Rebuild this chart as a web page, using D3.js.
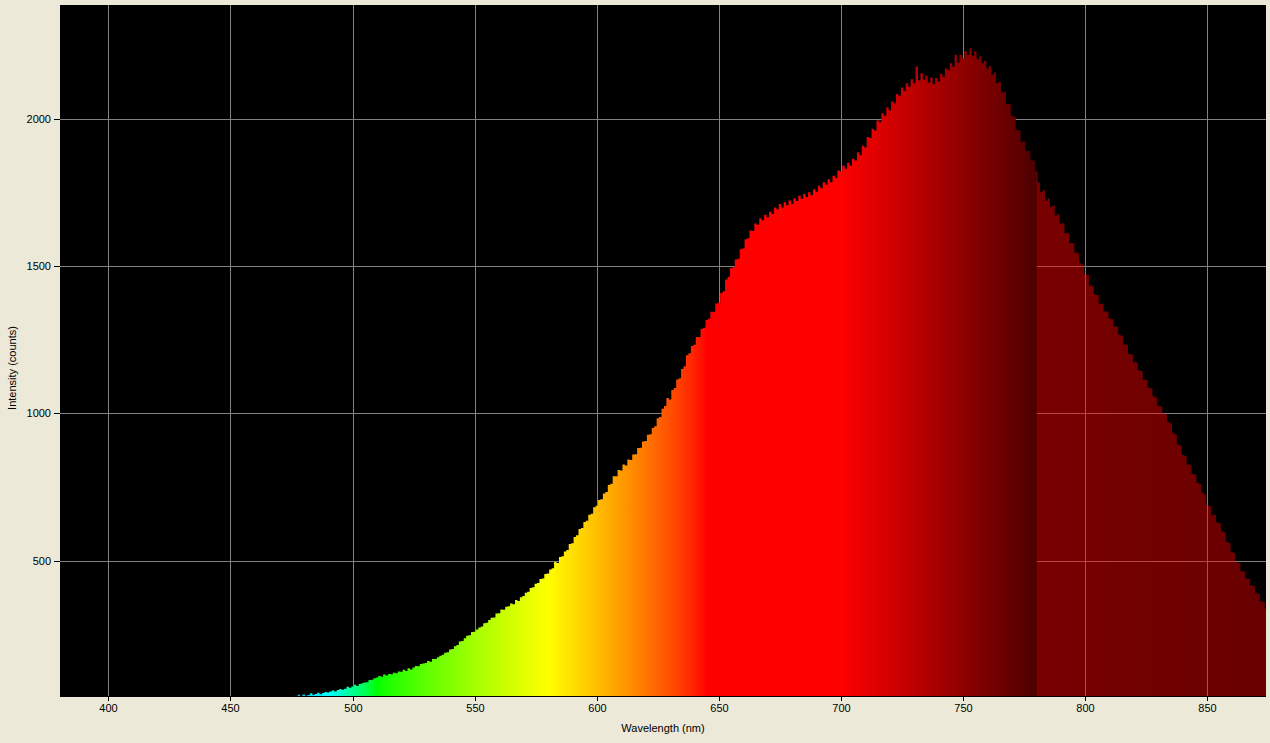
<!DOCTYPE html>
<html>
<head>
<meta charset="utf-8">
<script src="https://cdn.jsdelivr.net/npm/d3@7"></script>
<style>
  html, body { margin: 0; padding: 0; background: #ECE9D8; }
  svg { display: block; }
  text { font-family: "Liberation Sans", Arial, sans-serif; font-size: 11px; fill: #000; }
</style>
</head>
<body>
<svg id="chart" width="1270" height="743"></svg>
<script>
// ---- data -------------------------------------------------------------
const startNm = 477;            // first sampled wavelength (nm), 1 nm steps
const intensity = [
  40, 44, 40,
  45, 41, 43, 49, 44, 47, 51, 46, 50, 54,
  52, 55, 59, 55, 60, 64, 61, 65, 71, 68,
  72, 78, 74, 81, 83, 86, 87, 94, 95, 100,
  103, 108, 105, 113, 110, 115, 114, 119, 117, 123,
  122, 129, 125, 134, 130, 137, 142, 141, 149, 150,
  152, 159, 156, 166, 166, 172, 177, 180, 187, 189,
  198, 200, 209, 213, 225, 227, 236, 245, 246, 257,
  258, 266, 273, 276, 287, 289, 298, 306, 307, 320,
  321, 334, 333, 343, 345, 354, 352, 366, 363, 375,
  380, 391, 394, 407, 409, 421, 424, 437, 439, 454,
  456, 470, 474, 495, 492, 512, 515, 531, 536, 556,
  559, 580, 586, 607, 611, 631, 635, 656, 659, 681,
  686, 706, 708, 728, 733, 757, 761, 786, 786, 808,
  806, 826, 823, 843, 842, 860, 861, 882, 883, 904,
  906, 927, 929, 950, 956, 983, 988, 1016, 1025, 1052,
  1047, 1079, 1086, 1115, 1119, 1151, 1160, 1197, 1204, 1229,
  1233, 1259, 1259, 1287, 1291, 1317, 1321, 1345, 1345, 1373,
  1376, 1409, 1415, 1455, 1463, 1493, 1496, 1523, 1525, 1557,
  1560, 1591, 1595, 1621, 1619, 1645, 1641, 1663, 1656, 1675,
  1666, 1685, 1677, 1699, 1693, 1711, 1699, 1717, 1707, 1723,
  1711, 1731, 1721, 1739, 1729, 1745, 1735, 1751, 1741, 1761,
  1753, 1773, 1765, 1785, 1777, 1795, 1785, 1807, 1799, 1825,
  1821, 1841, 1831, 1851, 1841, 1865, 1859, 1887, 1877, 1909,
  1903, 1939, 1935, 1967, 1961, 1995, 1989, 2019, 2011, 2039,
  2029, 2059, 2053, 2085, 2079, 2107, 2095, 2121, 2109, 2135,
  2121, 2178, 2131, 2155, 2133, 2147, 2123, 2141, 2119, 2139,
  2127, 2153, 2143, 2171, 2165, 2189, 2177, 2218, 2191, 2217,
  2205, 2231, 2217, 2240, 2215, 2229, 2203, 2213, 2189, 2197,
  2171, 2180, 2150, 2158, 2122, 2126, 2090, 2092, 2050, 2052,
  2010, 2008, 1962, 1962, 1922, 1924, 1890, 1892, 1862, 1858,
  1822, 1784, 1752, 1758, 1722, 1730, 1702, 1706, 1672, 1676,
  1644, 1646, 1612, 1612, 1578, 1578, 1546, 1544, 1510, 1506,
  1474, 1470, 1434, 1432, 1404, 1402, 1372, 1372, 1346, 1346,
  1322, 1320, 1296, 1294, 1268, 1264, 1234, 1232, 1202, 1200,
  1174, 1174, 1146, 1144, 1114, 1114, 1087, 1085, 1059, 1054,
  1024, 1024, 999, 997, 971, 966, 934, 928, 894, 890,
  859, 856, 826, 824, 794, 792, 764, 760, 731, 724,
  689, 686, 654, 656, 630, 627, 599, 596, 564, 560,
  529, 526, 494, 492, 464, 463, 439, 438, 416, 414,
  389, 387, 362, 360, 336
];
const xTicks = [400, 450, 500, 550, 600, 650, 700, 750, 800, 850];
const yTicks = [500, 1000, 1500, 2000];
const xTitle = "Wavelength (nm)";
const yTitle = "Intensity (counts)";

// ---- layout -----------------------------------------------------------
const plot = { left: 60, right: 1266, top: 5, bottom: 696 };
const x = d3.scaleLinear().domain([380.2, 874.0]).range([plot.left, plot.right]);
const y = d3.scaleLinear().domain([40, 2387]).range([plot.bottom, plot.top]);

const svg = d3.select("#chart");
svg.append("rect").attr("width", 1270).attr("height", 743).attr("fill", "#ECE9D8");

const defs = svg.append("defs");
defs.append("clipPath").attr("id", "clip")
  .append("rect")
  .attr("x", plot.left).attr("y", plot.top)
  .attr("width", plot.right - plot.left).attr("height", plot.bottom - plot.top);

// spectral colour (Bruton style)
function specColor(w) {
  let r, g, b;
  if (w < 440) { r = -(w - 440) / 60; g = 0; b = 1; }
  else if (w < 490) { r = 0; g = (w - 440) / 50; b = 1; }
  else if (w < 510) { r = 0; g = 1; b = -(w - 510) / 20; }
  else if (w < 580) { r = (w - 510) / 70; g = 1; b = 0; }
  else if (w < 645) { r = 1; g = -(w - 645) / 65; b = 0; }
  else { r = 1; g = 0; b = 0; }
  let f = 1;
  if (w > 700) f = 0.3 + 0.7 * (780 - w) / 80;
  const c = v => Math.round(255 * Math.pow(v, 0.8) * f);
  return `rgb(${c(r)},${c(g)},${c(b)})`;
}

const x0 = x.domain()[0], x1 = x.domain()[1];
const grad = defs.append("linearGradient").attr("id", "spec")
  .attr("gradientUnits", "userSpaceOnUse")
  .attr("x1", x(x0)).attr("x2", x(x1)).attr("y1", 0).attr("y2", 0);
const off = w => (w - x0) / (x1 - x0);
for (let w = 381; w <= 780; w += 1) {
  grad.append("stop").attr("offset", off(w)).attr("stop-color", specColor(w));
}
// beyond the visible range: translucent red
grad.append("stop").attr("offset", off(780.3)).attr("stop-color", "#ff0000").attr("stop-opacity", 0.475);
grad.append("stop").attr("offset", 1).attr("stop-color", "#ff0000").attr("stop-opacity", 0.41);

// plot background
svg.append("rect")
  .attr("x", plot.left).attr("y", plot.top)
  .attr("width", plot.right - plot.left).attr("height", plot.bottom - plot.top)
  .attr("fill", "#000");

// grid (beneath data)
const grid = svg.append("g").attr("stroke", "#808080").attr("stroke-width", 1);
grid.selectAll("line.v").data(xTicks).join("line")
  .attr("x1", d => Math.round(x(d)) + 0.5).attr("x2", d => Math.round(x(d)) + 0.5)
  .attr("y1", plot.top).attr("y2", plot.bottom);
grid.selectAll("line.h").data(yTicks).join("line")
  .attr("y1", d => Math.round(y(d)) + 0.5).attr("y2", d => Math.round(y(d)) + 0.5)
  .attr("x1", plot.left).attr("x2", plot.right);

// spectrum
const pts = intensity.map((v, i) => ({ w: startNm + i - 0.5, v }));
pts.push({ w: startNm + intensity.length - 0.5, v: intensity[intensity.length - 1] });
const area = d3.area()
  .curve(d3.curveStepAfter)
  .x(d => x(d.w))
  .y0(plot.bottom)
  .y1(d => y(d.v));
svg.append("path")
  .attr("clip-path", "url(#clip)")
  .attr("d", area(pts))
  .attr("fill", "url(#spec)");

// x axis line & ticks
svg.append("line")
  .attr("x1", plot.left).attr("x2", plot.right)
  .attr("y1", plot.bottom + 0.5).attr("y2", plot.bottom + 0.5)
  .attr("stroke", "#000");
const xt = svg.append("g").selectAll("g").data(xTicks).join("g")
  .attr("transform", d => `translate(${Math.round(x(d)) + 0.5},${plot.bottom})`);
xt.append("line").attr("y1", 0).attr("y2", 5).attr("stroke", "#000");
xt.append("text").attr("y", 16).attr("text-anchor", "middle").text(d => d);

// y ticks
const yt = svg.append("g").selectAll("g").data(yTicks).join("g")
  .attr("transform", d => `translate(${plot.left},${Math.round(y(d)) + 0.5})`);
yt.append("line").attr("x1", -6).attr("x2", 0).attr("stroke", "#000");
yt.append("text").attr("x", -9).attr("dy", "0.35em").attr("text-anchor", "end").text(d => d);

// titles
svg.append("text")
  .attr("x", (plot.left + plot.right) / 2).attr("y", 732)
  .attr("text-anchor", "middle").text(xTitle);
svg.append("text")
  .attr("transform", "translate(16,368) rotate(-90)")
  .attr("text-anchor", "middle").text(yTitle);
</script>
</body>
</html>
